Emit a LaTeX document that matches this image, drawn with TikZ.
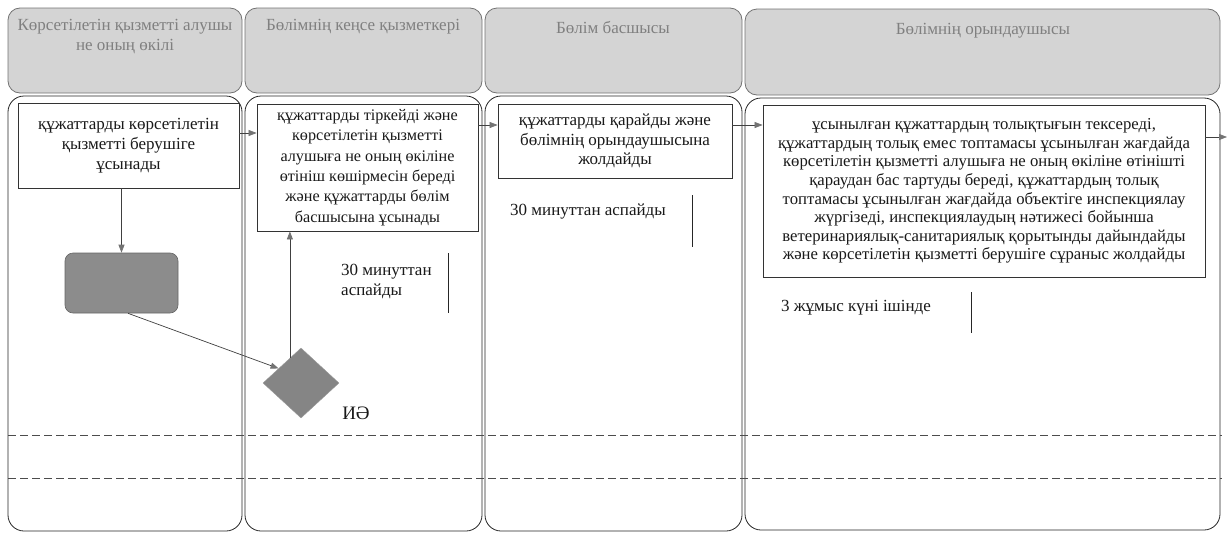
\documentclass[tikz,border=0pt]{standalone}
\usepackage{fontspec}
\setmainfont{Liberation Serif}
\usetikzlibrary{arrows.meta,shapes.geometric}
\begin{document}
\begin{tikzpicture}[x=1pt,y=-1pt,
  hdr/.style={draw=black!55, fill=black!17, rounded corners=12pt, line width=0.8pt},
  lanebody/.style={draw=black!85, fill=white, rounded corners=16pt, line width=0.8pt},
  hdrtext/.style={text=black!50, align=center, inner sep=0pt, font=\fontsize{17}{19.5}\selectfont},
  procbox/.style={draw=black!80, line width=0.8pt, align=center, inner sep=0pt, text=black!90, font=\fontsize{17}{19.5}\selectfont},
  timetext/.style={text=black!90, align=left, inner sep=0pt, font=\fontsize{17}{19.5}\selectfont},
  timebar/.style={draw=black!85, line width=0.8pt},
  sepline/.style={draw=black!70, line width=0.7pt, dash pattern=on 8pt off 4pt},
  greybox/.style={draw=black!60, fill=black!45, rounded corners=8pt, line width=0.6pt, minimum width=113pt, minimum height=60pt, inner sep=0pt},
  decision/.style={diamond, draw=black!40, fill=black!48, minimum width=76pt, minimum height=70pt, inner sep=0pt},
  arr/.style={-{Triangle[length=8pt,width=6pt,color=black!55]}, draw=black!75, line width=0.7pt}
]
\useasboundingbox (0,0) rectangle (1227,533);

% lane headers
\draw[hdr] (8,8) rectangle (242,93);
\draw[hdr] (245,8) rectangle (482,93);
\draw[hdr] (485,8) rectangle (742,93);
\draw[hdr] (745,9) rectangle (1220,95);
% lane bodies
\draw[lanebody] (8,96) rectangle (242,531);
\draw[lanebody] (245,96) rectangle (482,531);
\draw[lanebody] (485,96) rectangle (742,531);
\draw[lanebody] (745,98) rectangle (1220,530);

% header labels
\node[hdrtext, anchor=base] (h1) at (125,30.5) {Көрсетілетін қызметті алушы};
\node[hdrtext, anchor=base] (h1b) at (125,50) {не оның өкілі};
\node[hdrtext, anchor=base] (h2) at (363,30.5) {Бөлімнің кеңсе қызметкері};
\node[hdrtext, anchor=base] (h3) at (613,33) {Бөлім басшысы};
\node[hdrtext, anchor=base] (h4) at (983,34) {Бөлімнің орындаушысы};

% separators
\draw[sepline] (8,435) -- (1222,435);
\draw[sepline] (8,478) -- (1222,478);

% process boxes
\node[procbox, minimum width=221pt, minimum height=85pt, font=\fontsize{17}{20}\selectfont] (b1) at (128.5,145.5)
  {құжаттарды көрсетілетін\\қызметті берушіге\\ұсынады};
\node[procbox, minimum width=221pt, minimum height=127pt, font=\fontsize{16.2}{20.3}\selectfont] (b2) at (367.5,167.5)
  {құжаттарды тіркейді және\\көрсетілетін қызметті\\алушыға не оның өкіліне\\өтініш көшірмесін береді\\және құжаттарды бөлім\\басшысына ұсынады};
\node[procbox, minimum width=234pt, minimum height=74pt] (b3) at (615,141)
  {құжаттарды қарайды және\\бөлімнің орындаушысына\\жолдайды};
\node[procbox, minimum width=442pt, minimum height=172pt, font=\fontsize{16.7}{18.6}\selectfont] (b4) at (984,191)
  {ұсынылған құжаттардың толықтығын тексереді,\\құжаттардың толық емес топтамасы ұсынылған жағдайда\\көрсетілетін қызметті алушыға не оның өкіліне өтінішті\\қараудан бас тартуды береді, құжаттардың толық\\топтамасы ұсынылған жағдайда объектіге инспекциялау\\жүргізеді, инспекциялаудың нәтижесі бойынша\\ветеринариялық-санитариялық қорытынды дайындайды\\және көрсетілетін қызметті берушіге сұраныс жолдайды};

\node[greybox] (rr) at (121.5,283) {};
\node[decision] (dm) at (301,383) {};
\node[inner sep=0pt, font=\fontsize{19}{21}\selectfont, text=black!90] (yes) at (356,413) {ИӘ};

% timing notes
\node[timetext, anchor=north west] (t2) at (341,264) {30 минуттан\\аспайды};
\draw[timebar] (448,253) -- (448,313);
\node[timetext, anchor=west] (t3) at (510,212) {30 минуттан аспайды};
\draw[timebar] (692,195) -- (692,247);
\node[timetext, anchor=west] (t4) at (781,308) {3 жұмыс күні ішінде};
\draw[timebar] (971,292) -- (971,333);

% connectors
\coordinate (out) at (1227,137);
\draw[arr] ([yshift=12.5pt]b1.east) -- ([yshift=12.5pt]b1.east -| b2.west);
\draw[arr] ([yshift=42.5pt]b2.east) -- ([yshift=42.5pt]b2.east -| b3.west);
\draw[arr] ([yshift=16pt]b3.east) -- ([yshift=16pt]b3.east -| b4.west);
\draw[arr] ([yshift=54pt]b4.east) -- (out);
\draw[arr] (rr.north |- b1.south) -- (rr.north);
\draw[arr] ([xshift=6.5pt]rr.south) -- (dm.147);
\draw[arr] (dm.114) -- (dm.114 |- b2.south);
\end{tikzpicture}
\end{document}
